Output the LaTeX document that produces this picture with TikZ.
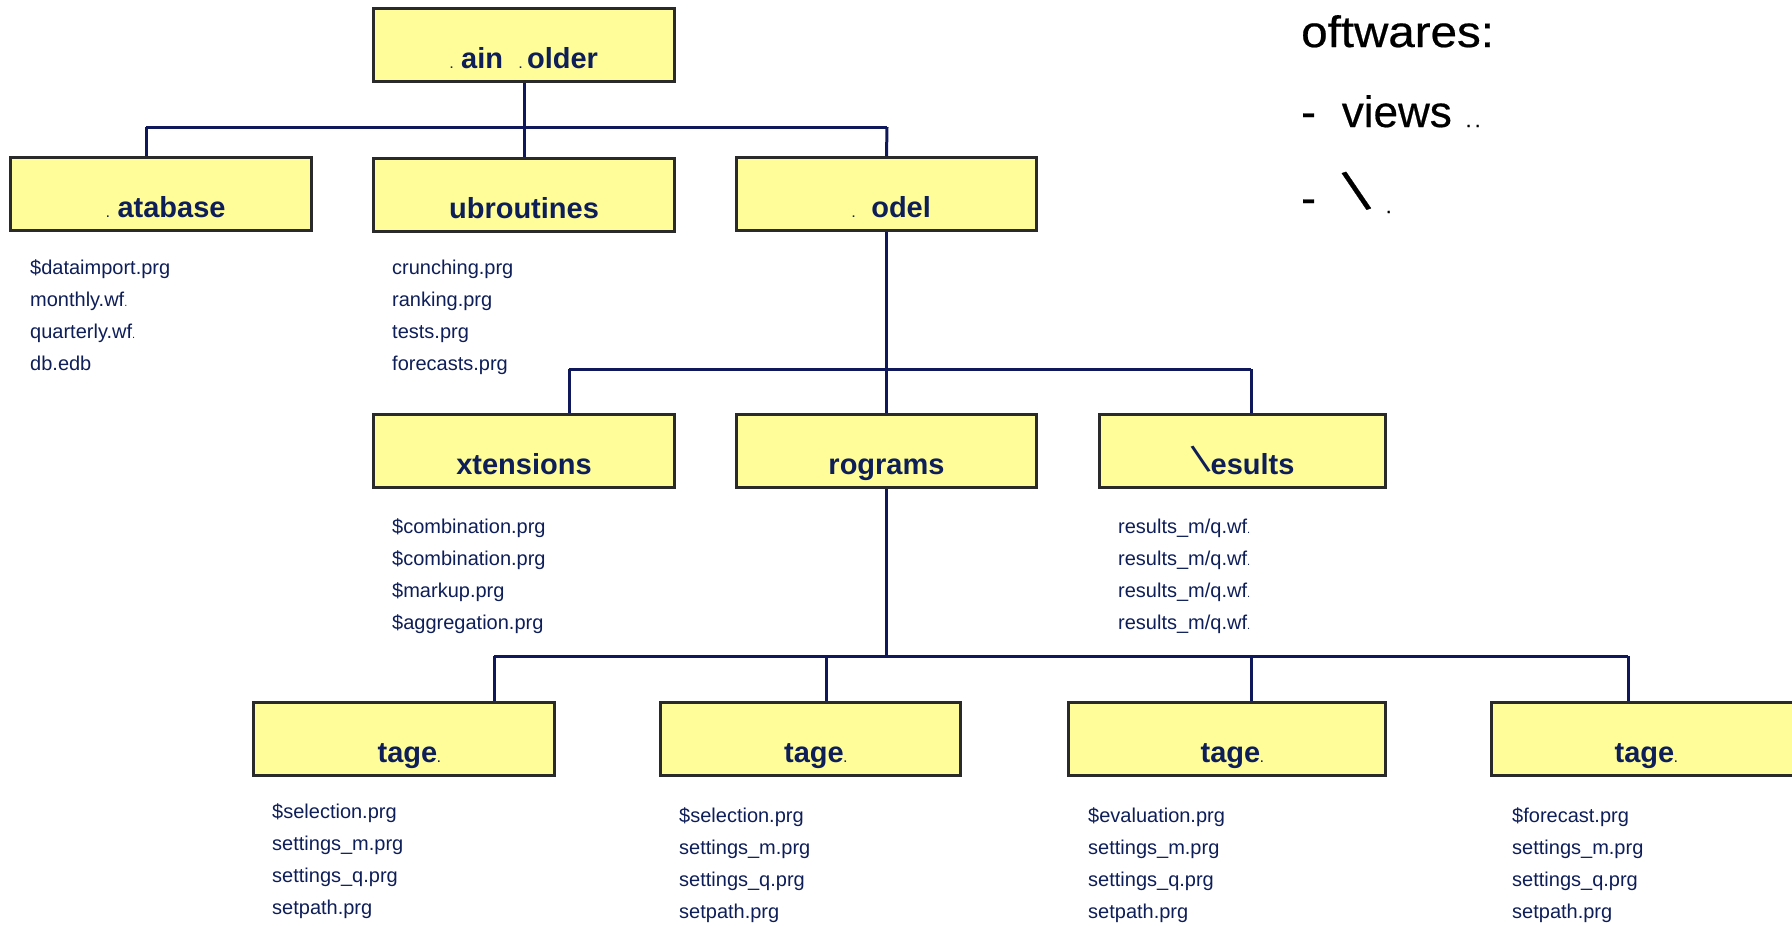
\documentclass[tikz,border=0pt]{standalone}
\usepackage{fontspec}
\setmainfont{Liberation Sans}
\newfontfamily\notefont[FakeBold=0.5]{Liberation Sans}
\usepackage{graphicx}
\usetikzlibrary{calc}

\definecolor{boxfill}{RGB}{255,253,153}
\definecolor{boxline}{RGB}{42,42,42}
\definecolor{wire}{RGB}{16,24,92}
\definecolor{ink}{RGB}{14,30,88}

% tiny stray marks left in the labels
\newcommand\gdot{{\fontsize{11}{11}\selectfont .}}
\newcommand\slashmark[1]{{\fontsize{#1}{#1}\selectfont\mdseries\rotatebox{19}{\textbackslash}}}

\begin{document}
\begin{tikzpicture}[x=1pt,y=-1pt,
  folder/.style={draw=boxline, fill=boxfill, line width=3pt, inner sep=0pt,
    minimum height=73pt},
  title/.style={anchor=base, inner sep=0pt, text=ink,
    font=\fontsize{29}{29}\selectfont\bfseries},
  files/.style={anchor=base west, inner sep=0pt, text=ink,
    font=\fontsize{20}{20}\selectfont},
  side/.style={anchor=base west, inner sep=0pt, text=black,
    font=\fontsize{44}{44}\notefont},
  conn/.style={draw=wire, line width=3pt}]

\useasboundingbox (0,0) rectangle (1792,926);

% ---------- folders ----------
\node[folder, minimum width=301pt] (main)  at (524,45)    {};
\node[folder, minimum width=301pt] (db)    at (161,194)   {};
\node[folder, minimum width=301pt] (sub)   at (524,195)   {};
\node[folder, minimum width=300pt] (model) at (886.5,194) {};
\node[folder, minimum width=301pt] (ext)   at (524,451)   {};
\node[folder, minimum width=300pt] (prog)  at (886.5,451) {};
\node[folder, minimum width=286pt] (res)   at (1242.5,451){};
\node[folder, minimum width=301pt] (st1)   at (404,739)   {};
\node[folder, minimum width=300pt] (st2)   at (810.5,739) {};
\node[folder, minimum width=317pt] (st3)   at (1227,739)  {};
\node[folder, minimum width=310pt] (st4)   at (1646,739)  {};

% ---------- folder titles ----------
\node[title] (mainT)  at ($(main.south)+(0,-15)$)  {\gdot\ ain\ \ \gdot\,older};
\node[title] (dbT)    at ($(db.south)+(5,-15)$)    {\gdot\ atabase};
\node[title] (subT)   at ($(sub.south)+(0,-15)$)   {ubroutines};
\node[title] (modelT) at ($(model.south)+(5,-15)$) {\gdot\ \ odel};
\node[title] (extT)   at ($(ext.south)+(0,-15)$)   {xtensions};
\node[title] (progT)  at ($(prog.south)+(0,-15)$)  {rograms};
\node[title] (resT)   at ($(res.south)+(0,-15)$)   {\slashmark{40}esults};
\node[title] (st1T)   at ($(st1.south)+(5,-15)$)   {tage\gdot};
\node[title] (st2T)   at ($(st2.south)+(5,-15)$)   {tage\gdot};
\node[title] (st3T)   at ($(st3.south)+(5,-15)$)   {tage\gdot};
\node[title] (st4T)   at ($(st4.south)+(0,-15)$)   {tage\gdot};

% ---------- file lists ----------
\newcommand\filelist[3]{%
  \foreach \t [count=\i] in {#3}
    \node[files] (#1\i) at ($(#2)+(0,{32*(\i-1)})$) {\t};}

\coordinate (dbL)  at (30,274);
\coordinate (subL) at (392,274);
\coordinate (extL) at (392,533);
\coordinate (resL) at (1118,533);
\coordinate (s1L)  at (272,818);
\coordinate (s2L)  at (679,822);
\coordinate (s3L)  at (1088,822);
\coordinate (s4L)  at (1512,822);

\filelist{dbF}{dbL}{\$dataimport.prg, monthly.wf\gdot, quarterly.wf\gdot, db.edb}
\filelist{subF}{subL}{crunching.prg, ranking.prg, tests.prg, forecasts.prg}
\filelist{extF}{extL}{\$combination.prg, \$combination.prg, \$markup.prg, \$aggregation.prg}
\filelist{resF}{resL}{results\_m/q.wf\gdot, results\_m/q.wf\gdot, results\_m/q.wf\gdot, results\_m/q.wf\gdot}
\filelist{s1F}{s1L}{\$selection.prg, settings\_m.prg, settings\_q.prg, setpath.prg}
\filelist{s2F}{s2L}{\$selection.prg, settings\_m.prg, settings\_q.prg, setpath.prg}
\filelist{s3F}{s3L}{\$evaluation.prg, settings\_m.prg, settings\_q.prg, setpath.prg}
\filelist{s4F}{s4L}{\$forecast.prg, settings\_m.prg, settings\_q.prg, setpath.prg}

% ---------- tree connectors ----------
\coordinate (b1w) at (146,127);
\coordinate (b1e) at (887,127);
\coordinate (b1m) at (524,127);
\draw[conn] (b1w) -- (b1e);
\draw[conn] (main.south) -- (b1m);
\draw[conn] (b1w) -- (b1w |- db.north);
\draw[conn] (b1m) -- (sub.north);
\draw[conn] (b1e) -- (model.north);

\coordinate (b2w) at (569,369);
\coordinate (b2e) at (1251,369);
\draw[conn] (b2w) -- (b2e);
\draw[conn] (model.south) -- (prog.north);
\draw[conn] (b2w) -- (b2w |- ext.north);
\draw[conn] (b2e) -- (b2e |- res.north);

\coordinate (b3w) at (494,656);
\coordinate (b3e) at (1628,656);
\coordinate (b3a) at (826,656);
\coordinate (b3b) at (1251,656);
\draw[conn] (b3w) -- (b3e);
\draw[conn] (prog.south) -- (prog.south |- b3w);
\draw[conn] (b3w) -- (b3w |- st1.north);
\draw[conn] (b3a) -- (b3a |- st2.north);
\draw[conn] (b3b) -- (b3b |- st3.north);
\draw[conn] (b3e) -- (b3e |- st4.north);

% ---------- side notes ----------
\node[side] (swHead)  at (1301,47)  {\scalebox{1.08}[1]{oftwares:}};
\node[side] (swViews) at (1301,127) {-\hspace{26pt}views\hspace{14pt}{\fontsize{20}{20}\selectfont .\,.}};
\node[side] (swOther) at (1301,213) {-\hspace{26pt}\slashmark{58}\hspace{15pt}{\fontsize{20}{20}\selectfont .}};

\end{tikzpicture}
\end{document}
